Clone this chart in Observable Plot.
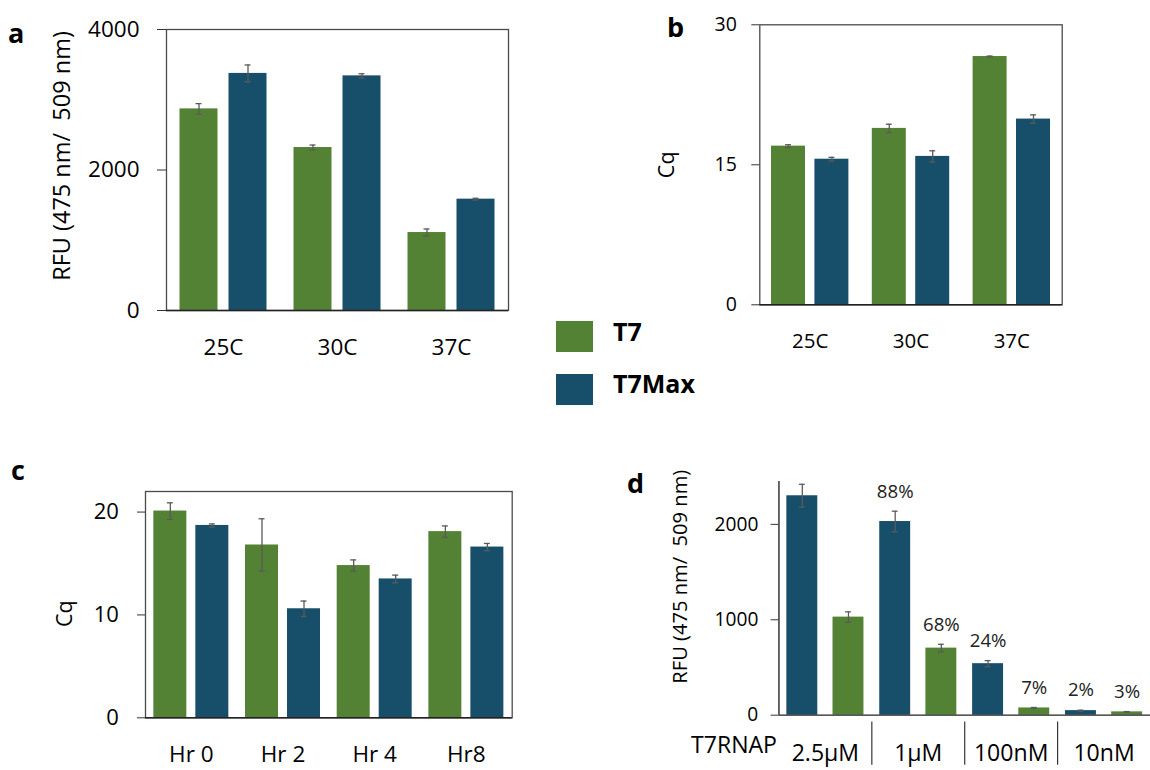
<!DOCTYPE html>
<html><head><meta charset="utf-8">
<script src="https://cdn.jsdelivr.net/npm/d3@7"></script>
<script src="https://cdn.jsdelivr.net/npm/@observablehq/plot@0.6"></script>
<style>
body{margin:0;background:#fff;font-family:"Open Sans",sans-serif;overflow:hidden}
#fig{position:relative;width:1150px;height:770px;overflow:hidden;background:#fff}
.panel{position:absolute}
.panel svg{background:transparent !important;overflow:visible}
.letter{position:absolute;font-weight:700;font-size:27px;line-height:1;color:#000}
.sw{position:absolute;width:37px;height:31px}
.lt{position:absolute;font-weight:700;font-size:25px;line-height:1;color:#000}
</style></head><body>
<div id="fig"></div>
<script>
// ---- data ----
const seriesNames = ["T7", "T7Max"];
const seriesColors = ["#548235", "#174F6A"];

// panel a: RFU by temperature
const groupsA = ["25C", "30C", "37C"];
const t7A = [2870, 2320, 1110];
const t7AErr = [75, 35, 50];
const maxA = [3375, 3340, 1585];
const maxAErr = [120, 30, 12];
const ticksA = [0, 2000, 4000];

// panel b: Cq by temperature
const groupsB = ["25C", "30C", "37C"];
const t7B = [17.0, 18.9, 26.6];
const t7BErr = [0.15, 0.45, 0.05];
const maxB = [15.6, 15.9, 19.9];
const maxBErr = [0.2, 0.6, 0.45];
const ticksB = [0, 15, 30];

// panel c: Cq by hour
const groupsC = ["Hr 0", "Hr 2", "Hr 4", "Hr8"];
const t7C = [20.1, 16.8, 14.8, 18.1];
const t7CErr = [0.8, 2.55, 0.55, 0.55];
const maxC = [18.7, 10.6, 13.5, 16.6];
const maxCErr = [0.15, 0.75, 0.37, 0.35];
const ticksC = [0, 10, 20];

// panel d: RFU by T7RNAP concentration
const groupsD = ["2.5µM", "1µM", "100nM", "10nM"];
const maxD = [2300, 2030, 540, 48];
const maxDErr = [120, 108, 32, 5];
const t7D = [1028, 703, 76, 35];
const t7DErr = [55, 40, 5, 3];
const pctMaxD = ["", "88%", "24%", "2%"];
const pctT7D = ["", "68%", "7%", "3%"];
const ticksD = [0, 1000, 2000];

const yLabelRFU = "RFU (475 nm/  509 nm)";
const yLabelCq = "Cq";
const xTitleD = "T7RNAP";

// ---- helpers ----
const errColor = "#5a5a5a";
function rowsOf(groups, vals, errs, series, labels) {
  return groups.map((g, i) => ({group: g, series, value: vals[i], err: errs[i], label: labels ? labels[i] : ""}));
}
function seriesMarks(rows, color, off, barW, bw, capW) {
  const ins = (bw - barW) / 2, cins = (bw - capW) / 2;
  return [
    Plot.barY(rows, {x: "group", y: "value", fill: color, insetLeft: ins, insetRight: ins, dx: off}),
    Plot.ruleX(rows, {x: "group", y1: d => d.value - d.err, y2: d => d.value + d.err, dx: off, stroke: errColor, strokeWidth: 1.3}),
    Plot.tickY(rows, {x: "group", y: d => d.value + d.err, dx: off, insetLeft: cins, insetRight: cins, stroke: errColor, strokeWidth: 1.3}),
    Plot.tickY(rows, {x: "group", y: d => d.value - d.err, dx: off, insetLeft: cins, insetRight: cins, stroke: errColor, strokeWidth: 1.3})
  ];
}
const fig = document.getElementById("fig");
function place(node, left, top) {
  const div = document.createElement("div");
  div.className = "panel";
  div.style.left = left + "px";
  div.style.top = top + "px";
  div.appendChild(node);
  fig.appendChild(div);
}
function groupedPanel(o) {
  const bw = (o.width - o.mL - o.mR) / o.groups.length;
  const rows1 = rowsOf(o.groups, o.v1, o.e1, o.s1, o.l1);
  const rows2 = rowsOf(o.groups, o.v2, o.e2, o.s2, o.l2);
  const marks = [
    ...seriesMarks(rows1, o.c1, -o.off, o.barW, bw, 6),
    ...seriesMarks(rows2, o.c2, o.off, o.barW, bw, 6),
  ];
  if (o.frame) marks.push(Plot.frame({stroke: "#4a4a4a", strokeWidth: 1.3}));
  marks.push(
    Plot.ruleY([0], {stroke: "#222", strokeWidth: 1.4}),
    Plot.axisY({ticks: o.ticks, tickFormat: d => String(d), tickSize: o.tickSize, tickPadding: o.ytp, fontSize: o.yfs, label: null, stroke: "#333"}),
    Plot.axisX({tickSize: 0, tickPadding: o.xtp, fontSize: o.xfs, label: null}),
    Plot.text([o.ylabel], {text: d => d, frameAnchor: "left", textAnchor: "middle", lineAnchor: "middle", rotate: -90, dx: o.ldx, dy: o.ldy, fontSize: o.lfs, fill: "#000"})
  );
  if (o.extra) marks.push(...o.extra(bw, rows1, rows2));
  const chart = Plot.plot({
    width: o.width, height: o.height,
    marginLeft: o.mL, marginRight: o.mR, marginTop: o.mT, marginBottom: o.mB,
    x: {domain: o.groups, padding: 0, round: false, label: null},
    y: {domain: o.domain, label: null},
    style: {fontFamily: "'Open Sans', sans-serif", color: "#000", background: "transparent", overflow: "visible"},
    marks
  });
  place(chart, o.left, o.top);
}

// panel a
groupedPanel({
  left: 0, top: 0, width: 520, height: 370, mL: 166, mR: 12, mT: 29, mB: 60,
  groups: groupsA, domain: [0, 4000], ticks: ticksA,
  v1: t7A, e1: t7AErr, s1: seriesNames[0], c1: seriesColors[0],
  v2: maxA, e2: maxAErr, s2: seriesNames[1], c2: seriesColors[1],
  barW: 38, off: 24.5, frame: true,
  tickSize: 9, ytp: 18, yfs: 22.5, xtp: 29, xfs: 22.5,
  ylabel: yLabelRFU, ldx: -104, ldy: -14, lfs: 23.5
});
// panel b
groupedPanel({
  left: 560, top: 0, width: 590, height: 360, mL: 199.3, mR: 88.3, mT: 24.3, mB: 55.7,
  groups: groupsB, domain: [0, 30], ticks: ticksB,
  v1: t7B, e1: t7BErr, s1: seriesNames[0], c1: seriesColors[0],
  v2: maxB, e2: maxBErr, s2: seriesNames[1], c2: seriesColors[1],
  barW: 34, off: 21.7, frame: true,
  tickSize: 8, ytp: 15, yfs: 19.5, xtp: 28.6, xfs: 20.5,
  ylabel: yLabelCq, ldx: -93, ldy: 0, lfs: 21.5
});
// panel c
groupedPanel({
  left: 0, top: 440, width: 520, height: 330, mL: 145, mR: 8.3, mT: 51, mB: 52.7,
  groups: groupsC, domain: [0, 22], ticks: ticksC,
  v1: t7C, e1: t7CErr, s1: seriesNames[0], c1: seriesColors[0],
  v2: maxC, e2: maxCErr, s2: seriesNames[1], c2: seriesColors[1],
  barW: 33, off: 21, frame: true,
  tickSize: 8, ytp: 18.7, yfs: 22, xtp: 27.8, xfs: 22.5,
  ylabel: yLabelCq, ldx: -80, ldy: 9, lfs: 21.5
});
// panel d
groupedPanel({
  left: 600, top: 440, width: 560, height: 330, mL: 181.7, mR: 0, mT: 41.7, mB: 50.3,
  groups: groupsD, domain: [0, 2450], ticks: ticksD,
  v1: maxD, e1: maxDErr, s1: seriesNames[1], c1: seriesColors[1], l1: pctMaxD,
  v2: t7D, e2: t7DErr, s2: seriesNames[0], c2: seriesColors[0], l2: pctT7D,
  barW: 31.5, off: 23.5, frame: false,
  tickSize: 8, ytp: 13, yfs: 19.5, xtp: 30, xfs: 23.5,
  ylabel: yLabelRFU, ldx: -100, ldy: -22, lfs: 20.5,
  extra: (bw, r1, r2) => [
    Plot.text(r1, {x: "group", y: d => d.value + d.err, text: "label", dx: -23.5, dy: -20, fontSize: 19, fill: "#222"}),
    Plot.text(r2, {x: "group", y: d => d.value + d.err, text: "label", dx: 23.5, dy: -20, fontSize: 19, fill: "#222"}),
    Plot.ruleX([groupsD[0]], {x: d => d, dx: -bw / 2, y1: 0, y2: 2450, stroke: "#222", strokeWidth: 1.4}),
    Plot.ruleX(groupsD.slice(1), {x: d => d, dx: -bw / 2, y1: 0, y2: 0, insetTop: 7, insetBottom: -51, stroke: "#333", strokeWidth: 1.2}),
    Plot.text([xTitleD], {text: d => d, frameAnchor: "bottom-left", textAnchor: "end", dx: -2, dy: 38, fontSize: 23.5, fill: "#000"})
  ]
});

// panel letters
[["a", 8, 19], ["b", 667, 13], ["c", 11, 456], ["d", 627, 469]].forEach(([t, x, y]) => {
  const s = document.createElement("div");
  s.className = "letter"; s.textContent = t;
  s.style.left = x + "px"; s.style.top = y + "px";
  fig.appendChild(s);
});
// legend
seriesNames.forEach((name, i) => {
  const sw = document.createElement("div");
  sw.className = "sw"; sw.style.background = seriesColors[i];
  sw.style.left = "556px"; sw.style.top = (321 + i * 53) + "px";
  fig.appendChild(sw);
  const t = document.createElement("div");
  t.className = "lt"; t.textContent = name;
  t.style.left = "613px"; t.style.top = (319 + i * 52) + "px";
  fig.appendChild(t);
});
</script>
</body></html>
